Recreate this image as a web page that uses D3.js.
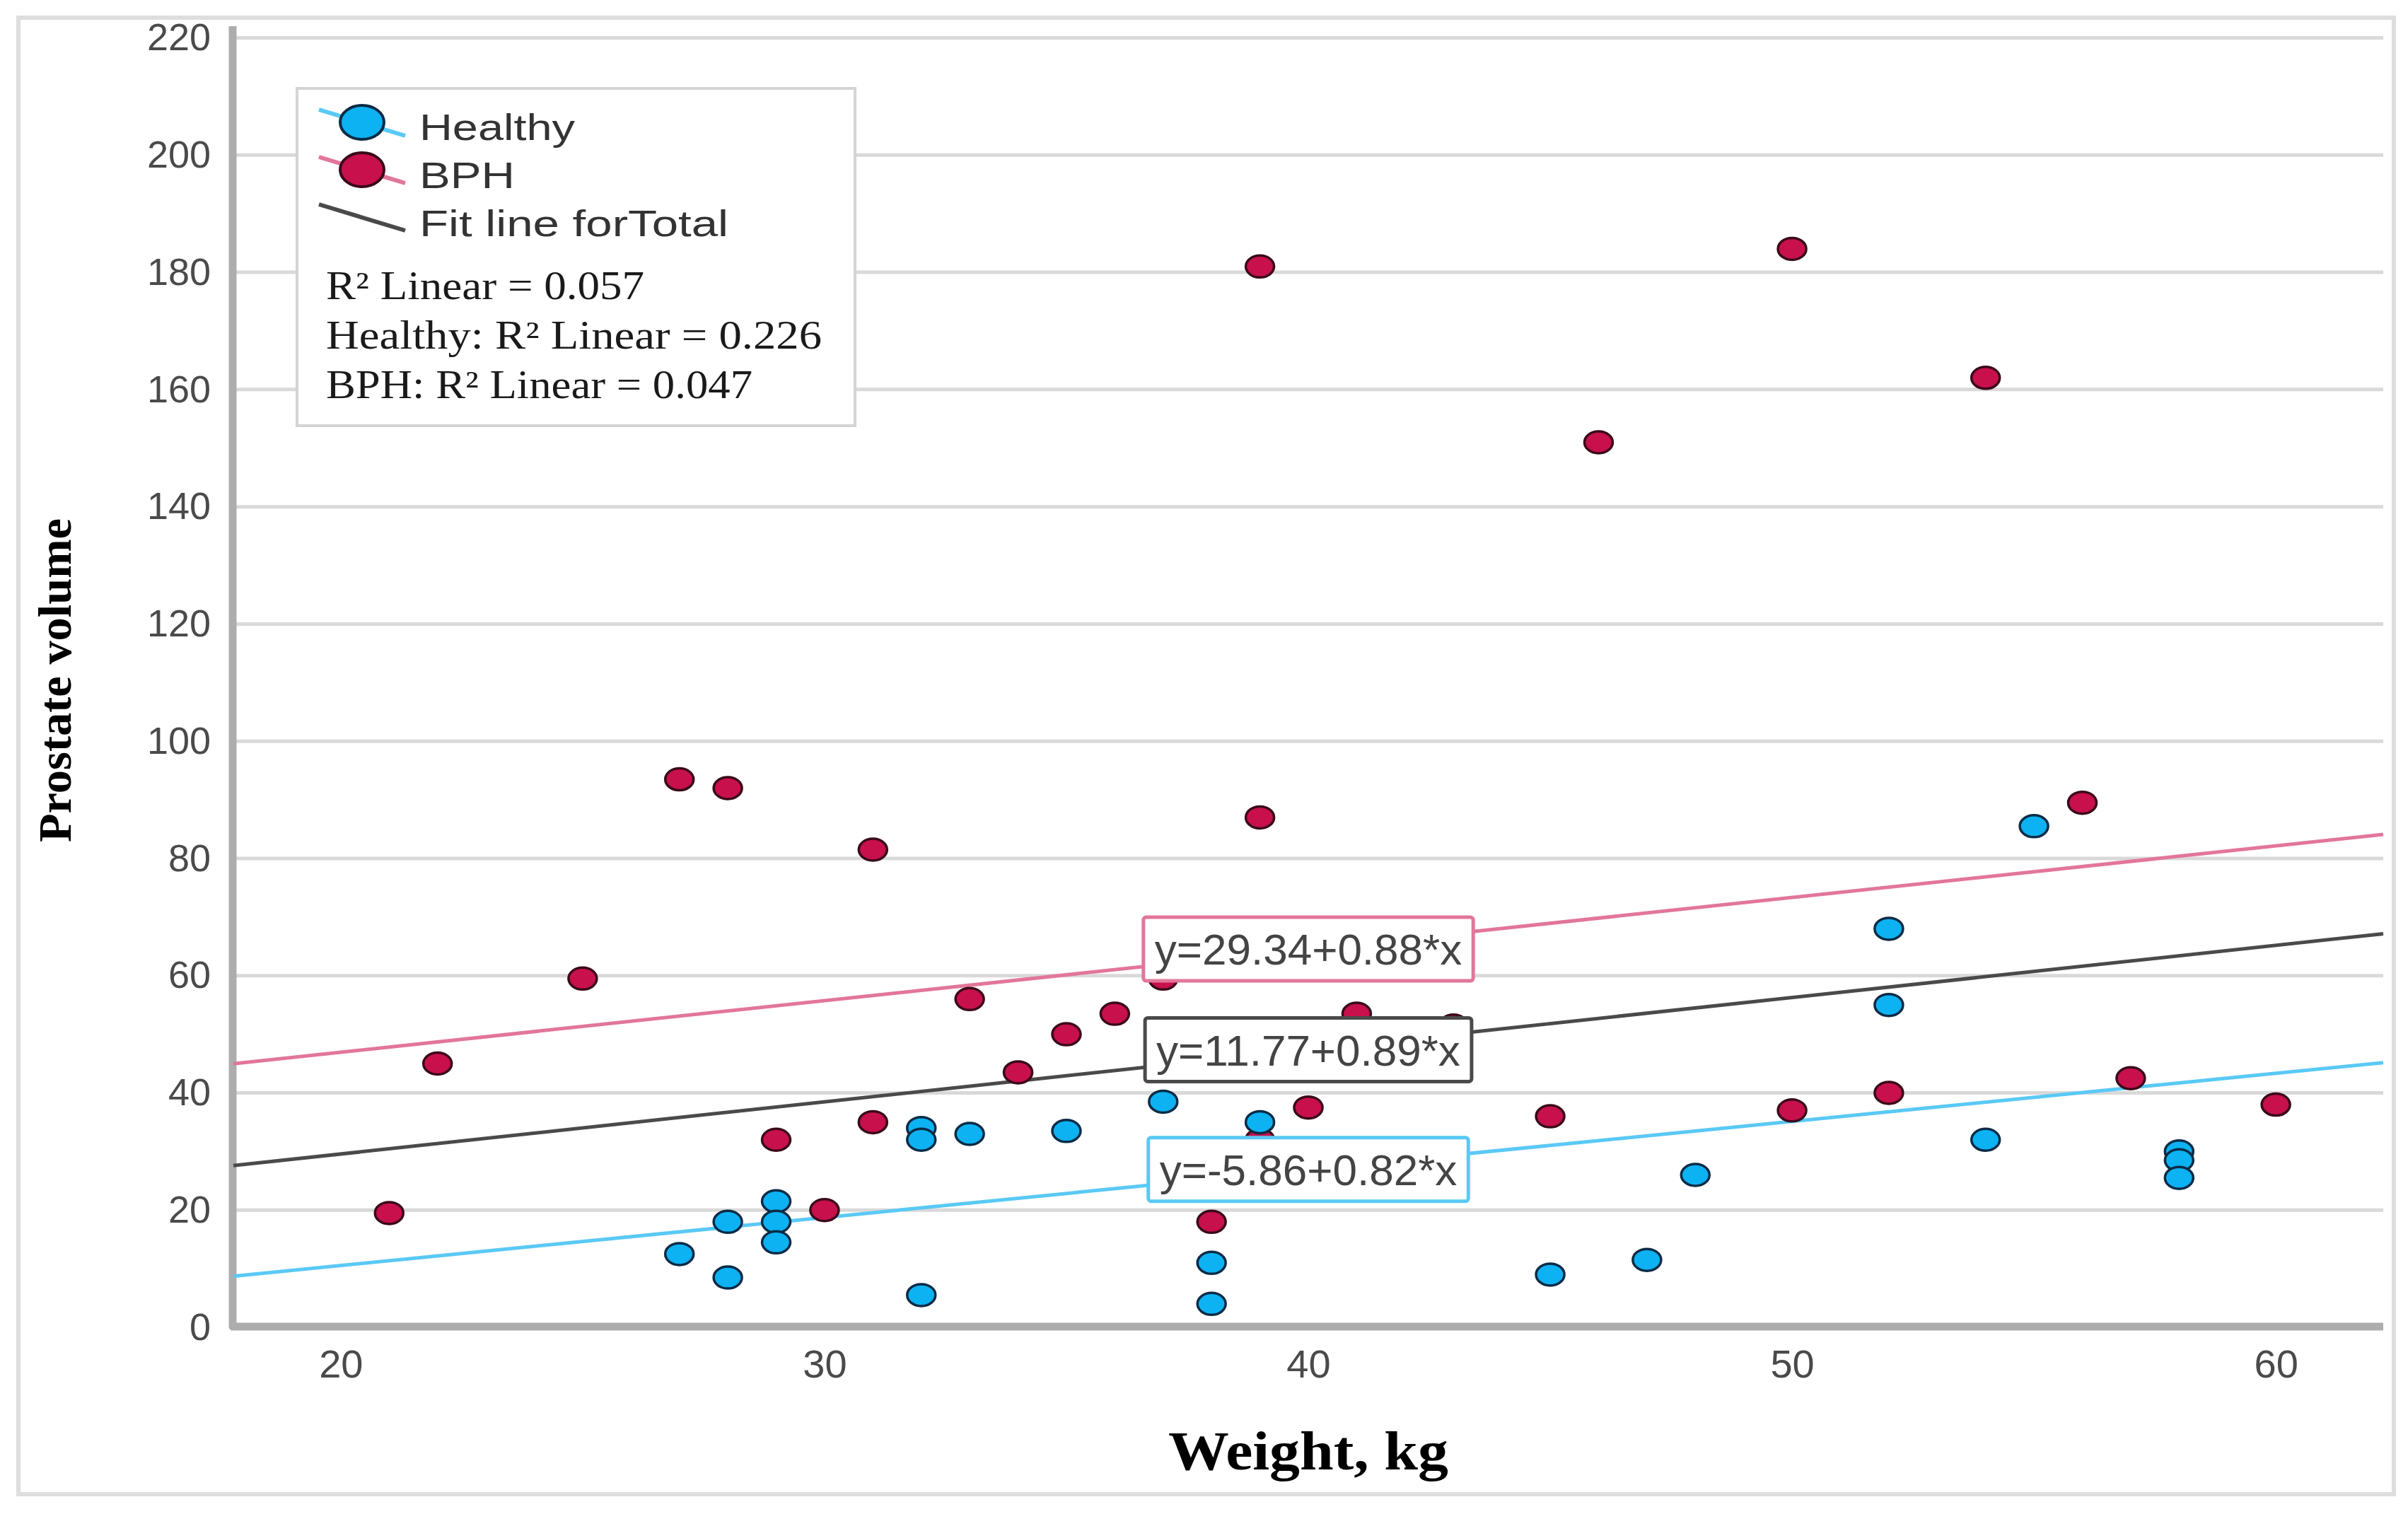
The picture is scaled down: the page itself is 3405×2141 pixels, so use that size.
<!DOCTYPE html>
<meta charset="utf-8">
<script src="https://d3js.org/d3.v7.min.js"></script>
<style>
  body { margin: 0; background: #fff; }
</style>
<body>
<div id="chart"></div>
<script>
// values
var healthyWeight = [27, 28, 28, 29, 29, 29, 32, 32, 32, 33, 35, 37, 38, 38, 39, 45, 47, 48, 52, 52, 54, 55, 58, 58, 58];
var healthyVolume = [12.5, 18, 8.5, 21.5, 18, 14.5, 34, 32, 5.5, 33, 33.5, 38.5, 11, 4, 35, 9, 11.5, 26, 68, 55, 32, 85.5, 30, 28.5, 25.5];

var bphWeight = [21, 22, 25, 27, 28, 29, 30, 31, 31, 33, 34, 35, 36, 37, 38, 39, 39, 39, 40, 41, 43, 45, 46, 50, 50, 52, 54, 56, 57, 60];
var bphVolume = [19.5, 45, 59.5, 93.5, 92, 32, 20, 81.5, 35, 56, 43.5, 50, 53.5, 59.5, 18, 181, 87, 32, 37.5, 53.5, 51.5, 36, 151, 184, 37, 40, 162, 89.5, 42.5, 38];

// fit lines: BPH, Total, Healthy
var fitNames = ["BPH", "Total", "Healthy"];
var fitIntercepts = [29.34, 11.77, -5.86];
var fitSlopes = [0.88, 0.89, 0.82];

var xTicks = [20, 30, 40, 50, 60];
var yTicks = [0, 20, 40, 60, 80, 100, 120, 140, 160, 180, 200, 220];

var legendLabels = ["Healthy", "BPH", "Fit line forTotal"];
var r2Labels = ["R\u00b2 Linear = 0.057", "Healthy: R\u00b2 Linear = 0.226", "BPH: R\u00b2 Linear = 0.047"];

var W = 3405, H = 2141;
var colors = {
  Healthy: {fill: "#0cb2f2", stroke: "#0b2b45", line: "#5ac9f5"},
  BPH: {fill: "#c8104c", stroke: "#3a0a1a", line: "#e27699"},
  Total: {line: "#4a4a4a"}
};

var svg = d3.select("#chart").append("svg")
    .attr("width", W)
    .attr("height", H);

// outer frame
svg.append("rect")
    .attr("x", 26).attr("y", 25)
    .attr("width", 3359).attr("height", 2088)
    .attr("fill", "none")
    .attr("stroke", "#dedede")
    .attr("stroke-width", 6);

var x = d3.scaleLinear().domain([17.78, 62.22]).range([330, 3370]);
var y = d3.scaleLinear().domain([0, 222]).range([1877, 37]);

// gridlines
svg.append("g")
  .selectAll("line")
  .data(yTicks.filter(function(d) { return d > 0; }))
  .enter().append("line")
    .attr("x1", x.range()[0]).attr("x2", x.range()[1])
    .attr("y1", function(d) { return y(d); })
    .attr("y2", function(d) { return y(d); })
    .attr("stroke", "#d9d9d9")
    .attr("stroke-width", 5);

// axis bars
svg.append("path")
    .attr("d", "M" + (x.range()[0] - 1) + "," + y.range()[1] + "V" + (y(0) - 1) + "H" + x.range()[1])
    .attr("fill", "none")
    .attr("stroke", "#adadad")
    .attr("stroke-width", 11)
    .attr("stroke-linejoin", "round");

// Y axis labels
var yAxis = svg.append("g")
    .attr("transform", "translate(" + x.range()[0] + ",0)")
    .call(d3.axisLeft(y).tickValues(yTicks).tickSize(0).tickPadding(32));
yAxis.select(".domain").remove();
yAxis.selectAll("text")
    .attr("font-family", "'Liberation Sans', Arial, sans-serif")
    .attr("font-size", 54)
    .attr("fill", "#4a4a4a");

// X axis labels
var xAxis = svg.append("g")
    .attr("transform", "translate(0," + y(0) + ")")
    .call(d3.axisBottom(x).tickValues(xTicks).tickSize(0).tickPadding(31));
xAxis.select(".domain").remove();
xAxis.selectAll("text")
    .attr("font-family", "'Liberation Sans', Arial, sans-serif")
    .attr("font-size", 56)
    .attr("fill", "#4a4a4a");

// axis titles
svg.append("text")
    .attr("transform", "translate(100,962) rotate(-90)")
    .attr("text-anchor", "middle")
    .attr("font-family", "'Liberation Serif', 'Times New Roman', serif")
    .attr("font-weight", "bold")
    .attr("font-size", 66)
    .attr("textLength", 458)
    .attr("lengthAdjust", "spacingAndGlyphs")
    .text("Prostate volume");

svg.append("text")
    .attr("x", x(40))
    .attr("y", 2078)
    .attr("text-anchor", "middle")
    .attr("font-family", "'Liberation Serif', 'Times New Roman', serif")
    .attr("font-weight", "bold")
    .attr("font-size", 78)
    .attr("textLength", 396)
    .attr("lengthAdjust", "spacingAndGlyphs")
    .text("Weight, kg");

// fit lines
var xd = x.domain();
fitNames.forEach(function(name, i) {
  var a = fitIntercepts[i], b = fitSlopes[i];
  svg.append("line")
      .attr("x1", x(xd[0])).attr("y1", y(a + b * xd[0]))
      .attr("x2", x(xd[1])).attr("y2", y(a + b * xd[1]))
      .attr("stroke", colors[name].line)
      .attr("stroke-width", 5);
});

// points
function drawDots(xs, ys, c) {
  svg.append("g")
    .selectAll("ellipse")
    .data(xs.map(function(d, i) { return [d, ys[i]]; }))
    .enter().append("ellipse")
      .attr("cx", function(d) { return x(d[0]); })
      .attr("cy", function(d) { return y(d[1]); })
      .attr("rx", 20)
      .attr("ry", 15.5)
      .attr("fill", c.fill)
      .attr("stroke", c.stroke)
      .attr("stroke-width", 3.5);
}
drawDots(bphWeight, bphVolume, colors.BPH);
drawDots(healthyWeight, healthyVolume, colors.Healthy);

// equation boxes, centred on each line at the middle of the x range
var xMid = (xd[0] + xd[1]) / 2;
fitNames.forEach(function(name, i) {
  var a = fitIntercepts[i], b = fitSlopes[i];
  var cx = x(xMid), cy = y(a + b * xMid);
  var g = svg.append("g");
  var box = g.append("rect");
  var t = g.append("text")
      .attr("x", cx)
      .attr("y", cy)
      .attr("dy", "0.36em")
      .attr("text-anchor", "middle")
      .attr("font-family", "'Liberation Sans', Arial, sans-serif")
      .attr("font-size", 62)
      .attr("fill", "#444")
      .text("y=" + a.toFixed(2) + "+" + b.toFixed(2) + "*x");
  var bb = t.node().getBBox();
  box.attr("x", bb.x - 16).attr("y", cy - 45)
      .attr("width", bb.width + 32).attr("height", 90)
      .attr("rx", 4)
      .attr("fill", "#fff")
      .attr("stroke", colors[name].line)
      .attr("stroke-width", 5);
});

// legend
var legend = svg.append("g");
legend.append("rect")
    .attr("x", 420).attr("y", 125)
    .attr("width", 789).attr("height", 477)
    .attr("fill", "#fff")
    .attr("stroke", "#d4d4d4")
    .attr("stroke-width", 4);

var legendKeys = ["Healthy", "BPH", "Total"];
legendLabels.forEach(function(lab, i) {
  var cy = 173 + i * 67;
  var key = legendKeys[i];
  legend.append("line")
      .attr("x1", 451).attr("y1", cy - 18)
      .attr("x2", 573).attr("y2", cy + 19)
      .attr("stroke", colors[key].line)
      .attr("stroke-width", 6);
  if (colors[key].fill) {
    legend.append("ellipse")
        .attr("cx", 512).attr("cy", cy)
        .attr("rx", 31).attr("ry", 24)
        .attr("fill", colors[key].fill)
        .attr("stroke", colors[key].stroke)
        .attr("stroke-width", 4);
  }
  legend.append("text")
      .attr("x", 593)
      .attr("y", 198 + i * 68)
      .attr("font-family", "'Liberation Sans', Arial, sans-serif")
      .attr("font-size", 52)
      .attr("fill", "#333")
      .attr("textLength", [220, 135, 437][i])
      .attr("lengthAdjust", "spacingAndGlyphs")
      .text(lab);
});

r2Labels.forEach(function(lab, i) {
  legend.append("text")
      .attr("x", 461)
      .attr("y", 423 + i * 70)
      .attr("font-family", "'Liberation Serif', 'Times New Roman', serif")
      .attr("font-size", 56)
      .attr("fill", "#1a1a1a")
      .attr("textLength", [450, 701, 603][i])
      .attr("lengthAdjust", "spacingAndGlyphs")
      .text(lab);
});
</script>
</body>
